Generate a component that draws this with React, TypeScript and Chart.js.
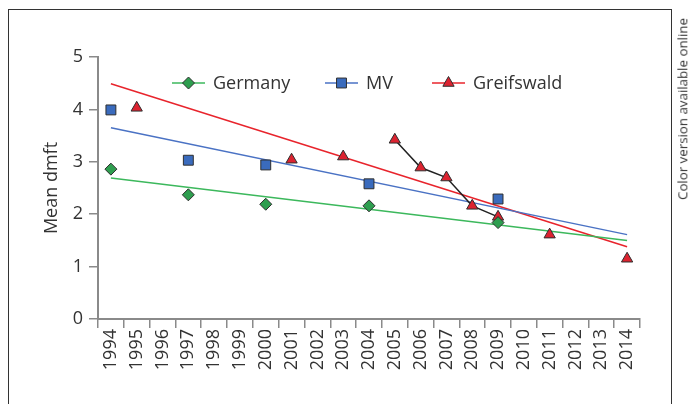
import React, { useEffect, useRef } from 'react';
import { Chart, registerables } from 'chart.js';

Chart.register(...registerables);

// ---- Data ----
const yearLabels = [
  '1994', '1995', '1996', '1997', '1998', '1999', '2000', '2001', '2002', '2003', '2004',
  '2005', '2006', '2007', '2008', '2009', '2010', '2011', '2012', '2013', '2014',
];

const seriesNames = ['Germany', 'MV', 'Greifswald'];

const germanyYears = [1994, 1997, 2000, 2004, 2009];
const germanyValues = [2.86, 2.37, 2.19, 2.16, 1.84];

const mvYears = [1994, 1997, 2000, 2004, 2009];
const mvValues = [3.99, 3.03, 2.94, 2.58, 2.29];

const greifswaldYears = [1995, 2001, 2003, 2005, 2006, 2007, 2008, 2009, 2011, 2014];
const greifswaldValues = [4.03, 3.04, 3.1, 3.42, 2.89, 2.7, 2.16, 1.95, 1.61, 1.15];

const curveYears = [2005, 2006, 2007, 2008, 2009];
const curveValues = [3.42, 2.89, 2.7, 2.16, 1.95];

const trendYears = [1994, 2014];
const germanyTrend = [2.69, 1.5];
const mvTrend = [3.65, 1.61];
const greifswaldTrend = [4.49, 1.38];

const yTicks = [0, 1, 2, 3, 4, 5];

// ---- Styles ----
const FONT = '"Open Sans", "Noto Sans", sans-serif';
const TEXT = '#333333';
const AXIS = '#8a8a8a';
const MARK_BORDER = '#2e2e2e';
const GREEN_FILL = '#2e9e4f';
const BLUE_FILL = '#3a6bbd';
const RED_FILL = '#dc2330';
const GREEN_LINE = '#3cb85c';
const BLUE_LINE = '#4a72c4';
const RED_LINE = '#e8242c';

const toPts = (ys: number[], vs: number[]) => ys.map((y, i) => ({ x: String(y), y: vs[i] }));

function drawShape(ctx: CanvasRenderingContext2D, style: string, x: number, y: number, r: number) {
  ctx.beginPath();
  if (style === 'rectRot') {
    ctx.moveTo(x - r, y);
    ctx.lineTo(x, y - r);
    ctx.lineTo(x + r, y);
    ctx.lineTo(x, y + r);
  } else if (style === 'rect') {
    const s = Math.SQRT1_2 * r;
    ctx.rect(x - s, y - s, 2 * s, 2 * s);
  } else {
    let rad = 0;
    ctx.moveTo(x + Math.sin(rad) * r, y - Math.cos(rad) * r);
    rad += (2 * Math.PI) / 3;
    ctx.lineTo(x + Math.sin(rad) * r, y - Math.cos(rad) * r);
    rad += (2 * Math.PI) / 3;
    ctx.lineTo(x + Math.sin(rad) * r, y - Math.cos(rad) * r);
  }
  ctx.closePath();
  ctx.fill();
  ctx.stroke();
}

export default function App() {
  const ref = useRef<HTMLCanvasElement>(null);

  useEffect(() => {
    if (!ref.current) return;

    const legendItems = [
      { label: seriesNames[0], line: GREEN_LINE, fill: GREEN_FILL, style: 'rectRot', r: 6, x: 172 },
      { label: seriesNames[1], line: BLUE_LINE, fill: BLUE_FILL, style: 'rect', r: 7, x: 325 },
      { label: seriesNames[2], line: RED_LINE, fill: RED_FILL, style: 'triangle', r: 6.5, x: 432 },
    ];

    const legendPlugin = {
      id: 'customLegend',
      afterDraw(chart: any) {
        const ctx: CanvasRenderingContext2D = chart.ctx;
        const y = 83;
        ctx.save();
        legendItems.forEach((it) => {
          ctx.strokeStyle = it.line;
          ctx.lineWidth = 1.5;
          ctx.beginPath();
          ctx.moveTo(it.x, y);
          ctx.lineTo(it.x + 33, y);
          ctx.stroke();
          ctx.fillStyle = it.fill;
          ctx.strokeStyle = MARK_BORDER;
          ctx.lineWidth = 1;
          drawShape(ctx, it.style, it.x + 16.5, y, it.r);
          ctx.fillStyle = TEXT;
          ctx.font = `18px ${FONT}`;
          ctx.textBaseline = 'middle';
          ctx.textAlign = 'left';
          ctx.fillText(it.label, it.x + 41, y + 1);
        });
        ctx.restore();
      },
    };

    const markerBase = {
      showLine: false,
      pointBorderColor: MARK_BORDER,
      pointBorderWidth: 1,
    };
    const lineBase = {
      pointRadius: 0,
      borderWidth: 1.5,
      tension: 0,
      fill: false,
    };

    const chart = new Chart(ref.current, {
      type: 'line',
      data: {
        labels: yearLabels,
        datasets: [
          {
            ...markerBase,
            label: seriesNames[0],
            data: toPts(germanyYears, germanyValues),
            pointStyle: 'rectRot',
            pointRadius: 6,
            pointBackgroundColor: GREEN_FILL,
            borderColor: GREEN_FILL,
            order: 0,
          },
          {
            ...markerBase,
            label: seriesNames[1],
            data: toPts(mvYears, mvValues),
            pointStyle: 'rect',
            pointRadius: 7,
            pointBackgroundColor: BLUE_FILL,
            borderColor: BLUE_FILL,
            order: 1,
          },
          {
            ...markerBase,
            label: seriesNames[2],
            data: toPts(greifswaldYears, greifswaldValues),
            pointStyle: 'triangle',
            pointRadius: 6.5,
            pointBackgroundColor: RED_FILL,
            borderColor: RED_FILL,
            order: 2,
          },
          {
            ...lineBase,
            label: 'Greifswald 2005-2009',
            data: toPts(curveYears, curveValues),
            borderColor: '#222222',
            order: 3,
          },
          {
            ...lineBase,
            label: 'Germany trend',
            data: toPts(trendYears, germanyTrend),
            borderColor: GREEN_LINE,
            order: 4,
          },
          {
            ...lineBase,
            label: 'MV trend',
            data: toPts(trendYears, mvTrend),
            borderColor: BLUE_LINE,
            order: 4,
          },
          {
            ...lineBase,
            label: 'Greifswald trend',
            data: toPts(trendYears, greifswaldTrend),
            borderColor: RED_LINE,
            order: 4,
          },
        ],
      },
      options: {
        animation: false,
        responsive: false,
        events: [],
        layout: { padding: { top: 57, right: 49, left: 0, bottom: 0 } },
        plugins: {
          legend: { display: false },
          tooltip: { enabled: false },
        },
        scales: {
          x: {
            type: 'category',
            offset: true,
            grid: {
              offset: true,
              drawOnChartArea: false,
              drawTicks: true,
              tickLength: 9,
              color: AXIS,
              lineWidth: 1.5,
            },
            border: { display: true, color: AXIS, width: 2 },
            ticks: {
              autoSkip: false,
              minRotation: 90,
              maxRotation: 90,
              padding: 1,
              color: TEXT,
              font: { family: FONT, size: 18 },
            },
            afterFit: (s: any) => {
              s.height = 85;
            },
          },
          y: {
            type: 'linear',
            min: yTicks[0],
            max: yTicks[yTicks.length - 1],
            ticks: {
              stepSize: 1,
              padding: 6,
              color: TEXT,
              font: { family: FONT, size: 18 },
            },
            grid: {
              drawOnChartArea: false,
              drawTicks: true,
              tickLength: 9,
              color: AXIS,
              lineWidth: 1.5,
            },
            border: { display: true, color: AXIS, width: 2 },
            title: {
              display: true,
              text: 'Mean dmft',
              color: TEXT,
              font: { family: FONT, size: 18 },
              padding: { top: 41, bottom: 0 },
            },
            afterFit: (s: any) => {
              s.width = 98;
            },
          },
        },
      } as any,
      plugins: [legendPlugin],
    });

    return () => chart.destroy();
  }, []);

  return (
    <div
      style={{
        position: 'fixed',
        left: 0,
        top: 0,
        width: 689,
        height: 404,
        overflow: 'hidden',
        background: '#ffffff',
      }}
    >
      <div
        style={{
          position: 'absolute',
          left: 8.25,
          top: 9.25,
          width: 663.5,
          height: 440,
          border: '1.5px solid #333333',
          boxSizing: 'border-box',
        }}
      />
      <canvas
        ref={ref}
        width={689}
        height={404}
        style={{ position: 'absolute', left: 0, top: 0, width: 689, height: 404 }}
      />
      <div
        style={{
          position: 'absolute',
          left: 683,
          top: 109,
          transform: 'translate(-50%, -50%) rotate(-90deg)',
          whiteSpace: 'nowrap',
          fontFamily: FONT,
          fontSize: 13.3,
          lineHeight: 1,
          color: TEXT,
        }}
      >
        Color version available online
      </div>
    </div>
  );
}
